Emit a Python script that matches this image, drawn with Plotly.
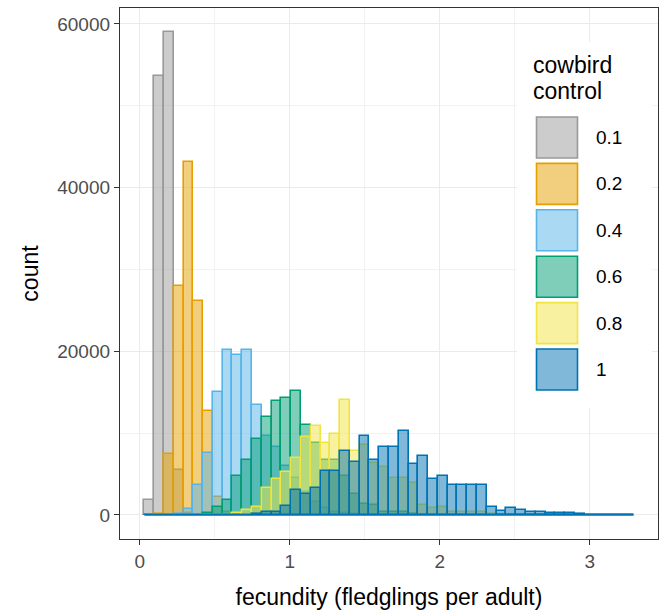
import plotly.graph_objects as go

# ---- data (counts per histogram bin; bins share a common grid) ----
BIN_START = 0.031
BIN_WIDTH = 0.0652
N_BINS = 50

groups = ["0.1", "0.2", "0.4", "0.6", "0.8", "1"]

# first bin index and counts for each cowbird-control level
g01_first = 0
g01_counts = [1800, 53600, 59000, 5500, 200]

g02_first = 1
g02_counts = [100, 7500, 28000, 43100, 26200, 12700, 2200, 400, 100]

g04_first = 3
g04_counts = [100, 700, 3600, 7600, 15000, 20200, 19600, 20200, 13400, 9700,
              8300, 6000, 4500, 2800, 1600, 800, 400, 200, 100]

g06_first = 6
g06_counts = [200, 1000, 1800, 4800, 6700, 9300, 12000, 13900, 14300, 15200,
              11000, 8800, 6700, 6700, 4800, 2500, 1300, 1200, 400, 400, 300, 100]

g08_first = 9
g08_counts = [200, 600, 1000, 3300, 4400, 5200, 6900, 9500, 10900, 8800,
              9900, 14100, 7800, 8500, 6300, 5900, 4500, 4500, 3900, 1200,
              900, 1000, 400, 300, 300, 300, 100]

g10_first = 11
g10_counts = [100, 300, 300, 1100, 3000, 2600, 3300, 5400, 5400, 7800,
              6500, 9700, 6700, 8300, 8300, 10300, 6200, 7200, 4400, 4700,
              3600, 3700, 3700, 3700, 1000, 450, 800, 600, 400, 400,
              250, 250, 250, 60, 40, 30, 30, 20, 20]

firsts = [g01_first, g02_first, g04_first, g06_first, g08_first, g10_first]
counts = [g01_counts, g02_counts, g04_counts, g06_counts, g08_counts, g10_counts]

line_colors = ["#999999", "#E69F00", "#56B4E9", "#009E73", "#F0E442", "#0072B2"]

legend_title_lines = ["cowbird", "control"]


def rgba(hex_color, a):
    h = hex_color.lstrip("#")
    r, g, b = int(h[0:2], 16), int(h[2:4], 16), int(h[4:6], 16)
    return f"rgba({r},{g},{b},{a})"


x_ticks = [0, 1, 2, 3]
y_ticks = [0, 20000, 40000, 60000]

# ---- layout constants (pixels) ----
W, H = 661, 613
ML, MR, MT, MB = 120, 3, 8, 74
PW, PH = W - ML - MR, H - MT - MB


def px(xp):
    return (xp - ML) / PW


def py(yp):
    return (H - MB - yp) / PH


fig = go.Figure()

for name, first, vals, col in zip(groups, firsts, counts, line_colors):
    full = [0] * N_BINS
    for i, v in enumerate(vals):
        full[first + i] = v
    centers = [BIN_START + BIN_WIDTH * (k + 0.5) for k in range(N_BINS)]
    fig.add_trace(go.Bar(
        x=centers, y=full, width=BIN_WIDTH, name=name,
        marker=dict(color=rgba(col, 0.5), line=dict(color=col, width=1.6)),
        showlegend=False, hoverinfo="skip",
    ))

# zero-height bars of the top group draw a line along the baseline
fig.add_trace(go.Scatter(
    x=[BIN_START, BIN_START + BIN_WIDTH * N_BINS], y=[0, 0], mode="lines",
    line=dict(color=line_colors[-1], width=1.6), showlegend=False, hoverinfo="skip",
))

all_max = max(max(c) for c in counts)
x_lo, x_hi = BIN_START, BIN_START + BIN_WIDTH * N_BINS
x_pad = 0.05 * (x_hi - x_lo)
y_pad = 0.05 * all_max

FONT = "Liberation Sans, Arial, sans-serif"

fig.update_layout(
    width=W, height=H,
    margin=dict(l=ML, r=MR, t=MT, b=MB),
    paper_bgcolor="white", plot_bgcolor="white",
    barmode="overlay", bargap=0,
    font=dict(family=FONT, color="black"),
    xaxis=dict(
        range=[x_lo - x_pad, x_hi + x_pad],
        tickvals=x_ticks, ticktext=[str(t) for t in x_ticks],
        ticks="outside", ticklen=5, tickwidth=1.2, tickcolor="#333333",
        tickfont=dict(size=19, color="#4D4D4D", family=FONT),
        showgrid=True, gridcolor="#EBEBEB", gridwidth=1.2,
        minor=dict(tickvals=[0.5, 1.5, 2.5], showgrid=True, gridcolor="#F2F2F2", gridwidth=0.8, ticks=""),
        showline=True, linecolor="#333333", linewidth=1.3, mirror=True,
        zeroline=False,
        title=dict(text="fecundity (fledglings per adult)", font=dict(size=23, color="black", family=FONT), standoff=17),
    ),
    yaxis=dict(
        range=[-y_pad, all_max + y_pad],
        tickvals=y_ticks, ticktext=[str(t) for t in y_ticks],
        ticks="outside", ticklen=5, tickwidth=1.2, tickcolor="#333333",
        tickfont=dict(size=19, color="#4D4D4D", family=FONT),
        showgrid=True, gridcolor="#EBEBEB", gridwidth=1.2,
        minor=dict(tickvals=[10000, 30000, 50000], showgrid=True, gridcolor="#F2F2F2", gridwidth=0.8, ticks=""),
        showline=True, linecolor="#333333", linewidth=1.3, mirror=True,
        zeroline=False,
        title=dict(text="count", font=dict(size=23, color="black", family=FONT), standoff=12),
    ),
)

# ---- manual legend (ggplot-style large keys) ----
shapes = [dict(type="rect", xref="paper", yref="paper",
               x0=px(517), x1=px(652), y0=py(408), y1=py(42),
               fillcolor="white", line=dict(width=0), layer="above")]
annotations = []
for j, line in enumerate(legend_title_lines):
    annotations.append(dict(text=line, xref="paper", yref="paper",
                            x=px(531), y=py(65 + 26 * j), xanchor="left", yanchor="middle",
                            showarrow=False, font=dict(size=23, color="black", family=FONT)))
key_top0, key_step, key_size = 117, 46.4, 41
for i, (name, col) in enumerate(zip(groups, line_colors)):
    top = key_top0 + i * key_step
    shapes.append(dict(type="rect", xref="paper", yref="paper",
                       x0=px(536.5), x1=px(536.5 + key_size), y0=py(top + key_size), y1=py(top),
                       fillcolor=rgba(col, 0.5), line=dict(color=col, width=1.6), layer="above"))
    annotations.append(dict(text=name, xref="paper", yref="paper",
                            x=px(594), y=py(top + key_size / 2), xanchor="left", yanchor="middle",
                            showarrow=False, font=dict(size=19, color="black", family=FONT)))

fig.update_layout(shapes=shapes, annotations=annotations)

fig.write_html("out.html")
